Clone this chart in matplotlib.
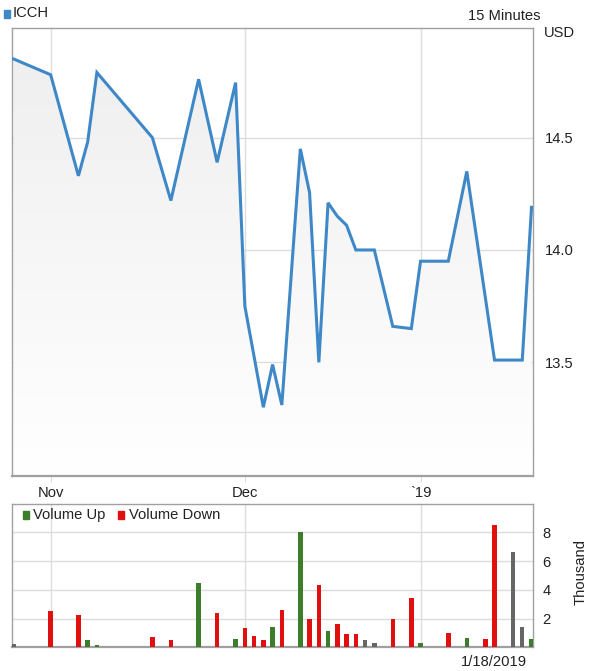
import numpy as np
import matplotlib
matplotlib.use('Agg')
import matplotlib.pyplot as plt
from matplotlib.patches import Rectangle

plt.rcParams['font.family'] = ['Liberation Sans', 'DejaVu Sans']

# trading-day index (0 = Oct 26 2018, 56 = Jan 18 2019)
price_days = [0, 4, 7, 8, 9, 15, 17, 20, 22, 24, 25, 27, 28, 29, 31, 32, 33,
              34, 35, 36, 37, 39, 41, 43, 44, 47, 49, 52, 55, 56]
price = [14.85, 14.78, 14.33, 14.48, 14.79, 14.50, 14.22, 14.76, 14.39, 14.745,
         13.75, 13.30, 13.49, 13.31, 14.45, 14.255, 13.50, 14.21, 14.15, 14.11,
         14.00, 14.00, 13.66, 13.65, 13.95, 13.95, 14.35, 13.51, 13.51, 14.19]

# volume in thousands
up_days = [8, 9, 20, 24, 28, 31, 34, 44, 49, 56]
up_vol = [0.49, 0.17, 4.46, 0.58, 1.42, 8.01, 1.12, 0.28, 0.68, 0.58]
down_days = [4, 7, 15, 17, 22, 25, 26, 27, 29, 32, 33, 35, 36, 37, 41, 43, 47, 51, 52]
down_vol = [2.49, 2.28, 0.70, 0.51, 2.39, 1.33, 0.79, 0.49, 2.58, 1.95, 4.35,
            1.65, 0.91, 0.91, 1.95, 3.42, 1.0, 0.56, 8.53]
flat_days = [0, 38, 39, 54, 55]
flat_vol = [0.22, 0.49, 0.28, 6.62, 1.39]

month_days = [4, 25, 44]
month_labels = ['Nov', 'Dec', '`19']

W, H = 589, 671
fig = plt.figure(figsize=(W / 100, H / 100), dpi=100)

def frac(x0, y0, x1, y1):
    return [x0 / W, 1 - y1 / H, (x1 - x0) / W, (y1 - y0) / H]

xlim = (-0.18, 56.16)
grid_c = '#dddddd'
spine_c = '#a0a0a0'
txt_c = '#222222'
fs = 10.6

# ---- price panel
ax = fig.add_axes(frac(12, 28, 533, 476))
ax.set_xlim(*xlim)
ax.set_ylim(12.994, 14.988)

poly = ax.fill_between(price_days, price, 12.994, color='none', lw=0)
grad = np.linspace(0, 1, 256).reshape(-1, 1)
img = ax.imshow(grad, cmap=matplotlib.colors.LinearSegmentedColormap.from_list(
    'g', ['#eeeeee', '#ffffff']), aspect='auto',
    extent=[xlim[0], xlim[1], 12.994, 14.988], origin='upper', zorder=1)
img.set_clip_path(poly.get_paths()[0], transform=ax.transData)

ax.plot(price_days, price, color='#3f88c8', lw=2.2, zorder=3,
        solid_joinstyle='miter')

ax.set_yticks([13.5, 14.0, 14.5])
ax.set_yticklabels(['13.5', '14.0', '14.5'])
ax.yaxis.tick_right()
ax.tick_params(axis='y', length=0, pad=8.5, labelsize=fs, labelcolor=txt_c)
ax.set_xticks(month_days)
ax.set_xticklabels(month_labels)
ax.tick_params(axis='x', length=4, color=grid_c, pad=3.5, labelsize=fs,
               labelcolor=txt_c)
ax.grid(True, color=grid_c, lw=1.0, zorder=0)
ax.set_axisbelow(True)
for s in ax.spines.values():
    s.set_color(spine_c)
    s.set_linewidth(1.0)
ax.spines['bottom'].set_linewidth(1.6)

# ---- volume panel
av = fig.add_axes(frac(12, 503.5, 533, 647.3))
av.set_xlim(*xlim)
av.set_ylim(0, 10)
bw = 0.48
av.bar(up_days, up_vol, width=bw, color='#3b7d2b', zorder=3)
av.bar(down_days, down_vol, width=bw, color='#e01010', zorder=3)
av.bar(flat_days, flat_vol, width=bw, color='#666666', zorder=3)
av.set_yticks([2, 4, 6, 8])
av.yaxis.tick_right()
av.tick_params(axis='y', length=0, pad=7, labelsize=fs, labelcolor=txt_c)
av.set_xticks(month_days)
av.set_xticklabels([])
av.tick_params(axis='x', length=0)
av.grid(True, color=grid_c, lw=1.0, zorder=0)
av.set_axisbelow(True)
for s in av.spines.values():
    s.set_color(spine_c)
    s.set_linewidth(1.0)
av.spines['bottom'].set_linewidth(1.6)

# ---- legends and labels (figure pixel coordinates)
def px(x, y):
    return x / W, 1 - y / H

fig.patches.append(Rectangle(px(4, 18), 6 / W, 8 / H, color='#3f88c8',
                             transform=fig.transFigure))
fig.text(*px(13, 13), 'ICCH', fontsize=fs, color=txt_c, va='center')
fig.text(*px(541, 16), '15 Minutes', fontsize=fs, color=txt_c,
         ha='right', va='center')
fig.text(*px(544, 33), 'USD', fontsize=fs, color=txt_c, va='center')

fig.patches.append(Rectangle(px(23, 519), 6 / W, 8 / H, color='#3b7d2b',
                             transform=fig.transFigure))
fig.text(*px(33, 515), 'Volume Up', fontsize=fs, color=txt_c, va='center')
fig.patches.append(Rectangle(px(118, 519), 6 / W, 8 / H, color='#e01010',
                             transform=fig.transFigure))
fig.text(*px(129, 515), 'Volume Down', fontsize=fs, color=txt_c, va='center')

fig.text(*px(527, 662), '1/18/2019', fontsize=fs, color=txt_c,
         ha='right', va='center')
fig.text(*px(581, 572), 'Thousand', fontsize=fs, color=txt_c, rotation=90,
         ha='center', va='center')

fig.savefig('out.png', dpi=100)
